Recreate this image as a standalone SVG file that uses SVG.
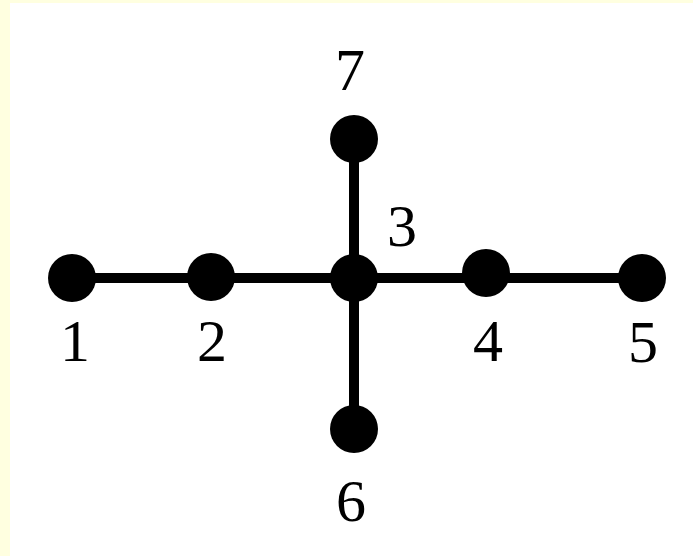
<svg xmlns="http://www.w3.org/2000/svg" width="693" height="556" viewBox="0 0 693 556">
<style>
.edge{stroke:#000;stroke-width:10;fill:none}
.node circle{fill:#000}
.lbl{font-family:"Liberation Serif","Times New Roman",serif;font-size:60px;fill:#000;text-anchor:middle}
</style>
<rect x="0" y="0" width="693" height="556" fill="#ffffff"/>
<rect x="0" y="0" width="693" height="3" fill="#ffffe0"/>
<rect x="0" y="0" width="10" height="556" fill="#ffffe0"/>
<g id="connectors">
<line class="edge" x1="72" y1="278" x2="642" y2="278"/>
<line class="edge" x1="354" y1="139" x2="354" y2="429"/>
</g>
<g id="node1" class="node"><circle cx="72" cy="278" r="24"/><text class="lbl" x="75" y="361">1</text></g>
<g id="node2" class="node"><circle cx="211" cy="277" r="24"/><text class="lbl" x="212" y="361">2</text></g>
<g id="node3" class="node"><circle cx="354" cy="278" r="24"/><text class="lbl" x="402" y="246">3</text></g>
<g id="node4" class="node"><circle cx="486" cy="273" r="24"/><text class="lbl" x="488" y="361">4</text></g>
<g id="node5" class="node"><circle cx="642" cy="278" r="24"/><text class="lbl" x="643" y="362">5</text></g>
<g id="node6" class="node"><circle cx="354" cy="429" r="24"/><text class="lbl" x="351" y="521">6</text></g>
<g id="node7" class="node"><circle cx="354" cy="139" r="24"/><text class="lbl" x="350" y="90">7</text></g>
</svg>
